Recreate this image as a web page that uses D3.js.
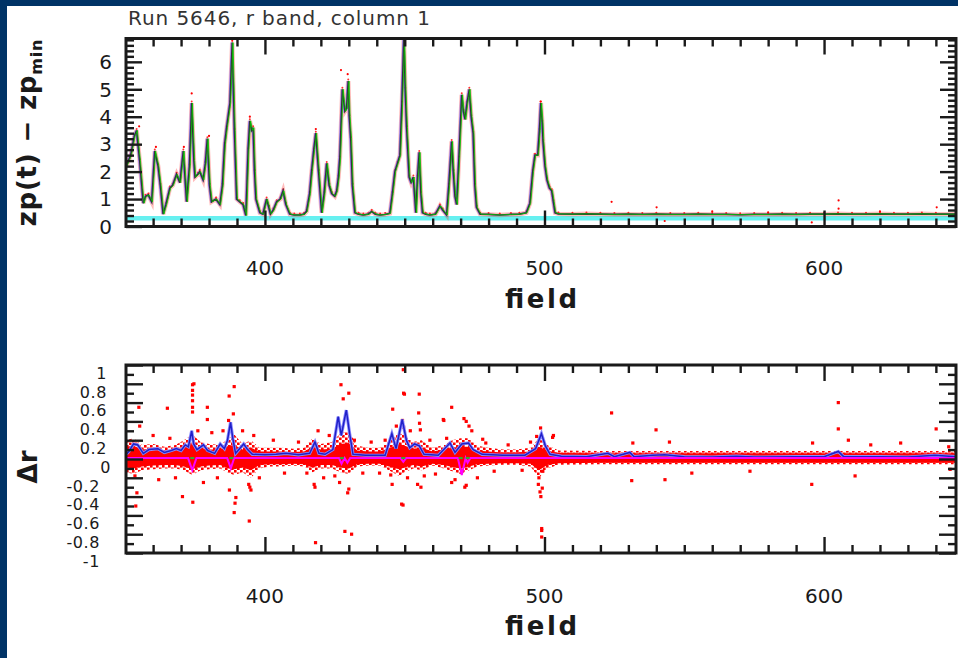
<!DOCTYPE html>
<html><head><meta charset="utf-8">
<script src="https://cdn.jsdelivr.net/npm/d3@7"></script>
<style>html,body{margin:0;padding:0;background:#003366;overflow:hidden}svg{display:block}</style>
</head><body>
<svg id="c" width="958" height="658"></svg>
<script>
// ---------------- DATA ----------------
const titleText = "Run 5646, r band, column 1";
const xTickLabels = [400, 500, 600];
const topYTickLabels = [0, 1, 2, 3, 4, 5, 6];
const botYTickLabels = [1, 0.8, 0.6, 0.4, 0.2, 0, -0.2, -0.4, -0.6, -0.8, -1];
const cyanLevel = [0.3];

// zp(t) - zp_min vs field
const topSeries = [[350.4,2.2],[352,2.6],[353.3,3.3],[354.1,3.5],[355.2,2.4],[356.5,0.85],[357.3,1.1],[358.3,1.15],[359.5,0.9],[360.6,2.75],[361.8,2.2],[362.6,1.5],[363.6,0.45],[364.6,0.8],[366,1.4],[367,1.5],[368.4,1.9],[369.6,1.6],[370.8,2.75],[372,0.9],[373,2.2],[373.8,4.5],[374.6,2.4],[375,1.8],[376,1.9],[376.7,2.0],[377.9,1.7],[378.7,2.3],[379.4,3.2],[380.2,1.5],[380.9,0.9],[382.5,1.0],[383.9,0.8],[384.8,1.5],[385.6,3.0],[386.3,3.6],[387.5,4.5],[388.3,6.7],[389.1,3.5],[389.9,1.0],[391,0.9],[392.2,0.8],[393.2,0.4],[394,2.8],[394.6,3.85],[395.3,3.5],[395.8,3.6],[396.3,2.0],[396.8,1.0],[398.2,0.5],[399.3,0.45],[400.6,1.0],[401.4,0.7],[402,0.45],[403,0.6],[404.2,0.9],[405.5,1.0],[406.5,1.3],[407.5,0.8],[408.9,0.45],[410.5,0.42],[412.5,0.42],[414,0.45],[414.9,0.55],[416,1.2],[416.7,2.0],[417.5,2.8],[418.2,3.4],[419.2,2.0],[420.3,0.5],[421.2,1.2],[422.1,2.3],[423,1.5],[423.9,1.2],[425,1.1],[425.7,1.3],[426.3,1.8],[426.8,2.5],[427.7,5.0],[428.6,4.2],[429.2,4.3],[429.8,5.3],[430.2,4.0],[430.7,3.2],[431.3,1.5],[432.2,0.5],[433.5,0.45],[435.2,0.42],[437,0.45],[438.2,0.55],[439.5,0.45],[441.2,0.42],[443,0.44],[444.7,0.48],[445.6,1.2],[446.5,2.0],[447.4,2.3],[448.3,2.6],[449,4.5],[449.7,6.9],[450.2,5.0],[450.7,3.6],[451.6,1.8],[452.3,1.6],[453.1,1.8],[454,0.5],[454.6,1.8],[455.2,2.7],[455.8,1.2],[456.4,0.5],[457.5,0.45],[459,0.42],[461,0.45],[462.6,0.75],[463.6,0.6],[465,0.42],[465.8,1.5],[466.8,3.1],[467.4,2.0],[468,1.1],[468.6,0.8],[469.4,2.5],[470.4,4.8],[471,4.2],[471.6,3.9],[472.3,4.5],[473.1,5.0],[473.8,4.0],[474.5,3.4],[475.1,1.5],[475.7,0.7],[477,0.45],[480,0.44],[484,0.42],[488,0.44],[491,0.45],[493.5,0.5],[494.8,0.85],[495.8,2.0],[496.6,2.6],[497.6,2.6],[498.2,3.5],[498.7,4.5],[499.2,3.8],[499.5,3.1],[500.2,2.2],[500.9,1.7],[501.8,1.4],[502.6,1.3],[503.2,0.9],[503.8,0.5],[505,0.46],[510,0.45],[515,0.46],[520,0.45],[525,0.44],[530,0.45],[535,0.44],[540,0.45],[545,0.44],[550,0.44],[555,0.45],[560,0.44],[565,0.44],[570,0.43],[575,0.44],[580,0.44],[585,0.45],[590,0.44],[595,0.45],[600,0.45],[605,0.46],[610,0.45],[615,0.45],[620,0.46],[625,0.45],[630,0.45],[635,0.46],[640,0.45],[647.2,0.45]];
const topOutliers = [[373.8,4.85],[427.2,5.7],[429.6,5.55],[388.3,6.8],[498.6,4.55],[355,3.65],[380,3.3],[394.6,4.0],[418.2,3.55],[361,2.9],[371,2.9],[524,0.9],[605.2,0.95],[605.2,0.65],[540.1,0.7],[640.3,0.7],[543,0.2],[595.6,0.15],[560,0.55],[580,0.52],[620,0.55]];

// Delta r panel
const blueSeries = [[350.4,0.05],[351.3,0.08],[353,0.16],[354.5,0.15],[356.5,0.06],[358.5,0.1],[361.7,0.11],[364,0.07],[366.5,0.09],[368.3,0.11],[370,0.09],[371.5,0.15],[372.6,0.13],[373.8,0.3],[374.5,0.16],[375.7,0.1],[378,0.15],[379.5,0.09],[382,0.06],[384,0.16],[385.5,0.11],[386.6,0.2],[387.7,0.39],[388.5,0.22],[389.5,0.06],[392.4,0.16],[393.8,0.1],[395.5,0.05],[400,0.045],[404,0.05],[407.5,0.06],[412,0.045],[416,0.06],[417.9,0.18],[419.3,0.06],[421.5,0.05],[424.3,0.1],[426.2,0.45],[427.3,0.25],[429.1,0.52],[430.3,0.27],[431.5,0.05],[436,0.04],[443,0.04],[445.4,0.27],[446.9,0.11],[449.1,0.42],[450.6,0.2],[451.8,0.12],[453.5,0.16],[455.2,0.14],[456.9,0.05],[462,0.04],[466.2,0.17],[468,0.07],[470.4,0.16],[472.8,0.17],[474.5,0.1],[477.7,0.05],[485,0.04],[493,0.04],[496.8,0.11],[498.9,0.27],[500.3,0.14],[502,0.05],[506,0.03],[515,0.025],[522.7,0.06],[525,0.025],[530.5,0.07],[532,0.025],[538.8,0.04],[543,0.045],[550,0.025],[560,0.02],[568.7,0.03],[575,0.02],[590,0.025],[600,0.025],[605.1,0.08],[607,0.025],[620,0.025],[630,0.02],[639.7,0.04],[647.2,0.025]];
const magentaSeries = [[350.4,0.01],[372.5,0.01],[374,-0.12],[375.5,0.01],[386.5,0.01],[387.8,-0.1],[389,0.01],[426.5,0.01],[427.4,-0.05],[428.5,0.01],[429.5,-0.04],[430.5,0.01],[448.5,0.01],[449.5,-0.03],[450.5,0.01],[469,0.01],[470.4,-0.17],[471.8,0.01],[472.5,-0.04],[473.5,0.01],[647.2,0.01]];
const greenMarks = [[374,0.01],[388,0.01],[427.5,0.01],[449.5,0.01],[470,0.01],[472.5,0.01]];
const bandFields = [350.4,353,356,360,364,368,371,374,377,380,384,387,389,392,395,398,402,406,410,414,417,420,424,427,430,433,437,441,445,448,450,453,456,460,464,467,470,473,476,480,485,490,495,498,501,505,520,550,580,610,647.2];
const haloUpper = [0.2,0.22,0.15,0.16,0.13,0.15,0.2,0.26,0.18,0.16,0.15,0.22,0.26,0.16,0.2,0.12,0.12,0.12,0.11,0.12,0.22,0.16,0.18,0.27,0.3,0.14,0.12,0.12,0.2,0.28,0.25,0.18,0.2,0.12,0.15,0.2,0.22,0.22,0.14,0.12,0.1,0.1,0.12,0.22,0.15,0.09,0.085,0.085,0.085,0.085,0.085];
const haloLower = [-0.14,-0.16,-0.12,-0.11,-0.1,-0.1,-0.12,-0.17,-0.12,-0.11,-0.1,-0.15,-0.17,-0.14,-0.2,-0.1,-0.08,-0.08,-0.07,-0.08,-0.14,-0.1,-0.1,-0.14,-0.16,-0.08,-0.07,-0.07,-0.13,-0.18,-0.14,-0.1,-0.12,-0.07,-0.1,-0.13,-0.16,-0.12,-0.08,-0.07,-0.06,-0.06,-0.08,-0.2,-0.1,-0.06,-0.055,-0.055,-0.055,-0.055,-0.055];
const coreUpper = [0.13,0.14,0.1,0.11,0.09,0.1,0.12,0.16,0.11,0.1,0.1,0.14,0.15,0.1,0.12,0.08,0.08,0.08,0.075,0.08,0.13,0.1,0.11,0.16,0.17,0.09,0.08,0.08,0.12,0.16,0.14,0.11,0.12,0.08,0.1,0.12,0.13,0.13,0.09,0.08,0.07,0.07,0.08,0.13,0.09,0.065,0.06,0.06,0.06,0.06,0.06];
const coreLower = [-0.09,-0.1,-0.08,-0.07,-0.065,-0.065,-0.08,-0.11,-0.08,-0.07,-0.065,-0.1,-0.11,-0.09,-0.12,-0.065,-0.055,-0.055,-0.05,-0.055,-0.09,-0.065,-0.065,-0.09,-0.1,-0.055,-0.05,-0.05,-0.085,-0.11,-0.09,-0.065,-0.08,-0.05,-0.065,-0.085,-0.1,-0.08,-0.055,-0.05,-0.045,-0.045,-0.05,-0.12,-0.065,-0.045,-0.04,-0.04,-0.04,-0.04,-0.04];
const redOutliers = [[374.1,0.79],[374.6,0.8],[374.1,0.73],[374.1,0.68],[374.1,0.62],[374.1,0.55],[374.1,0.5],[389,0.77],[387.2,0.67],[388.7,0.48],[387,0.41],[365.1,0.54],[379.4,0.55],[379.4,0.42],[370.5,-0.4],[374.2,-0.46],[389,-0.57],[389.3,-0.47],[389.6,-0.41],[394.4,-0.66],[394.2,-0.27],[394.6,-0.3],[395,-0.33],[387.3,-0.33],[418.1,-0.89],[428.6,-0.77],[431,-0.8],[427.2,0.79],[428,0.64],[430,0.7],[449.5,0.95],[449.6,0.7],[449.9,0.69],[455.2,0.69],[445.7,0.53],[449.4,-0.49],[466.8,0.55],[463.8,0.42],[429.6,-0.36],[430,-0.32],[417.6,-0.27],[417.9,-0.3],[445.5,-0.27],[445,-0.17],[454.6,-0.27],[455.8,-0.3],[466.8,-0.25],[470.4,-0.13],[354.9,0.55],[355.2,0.35],[353.8,-0.5],[354.2,-0.36],[353.5,-0.18],[449.2,0.41],[449.6,0.34],[455,0.49],[455.3,0.38],[455.6,0.31],[464,0.41],[471.2,0.43],[472,0.4],[473,0.35],[498.6,0.33],[477.9,0.21],[503.2,0.25],[448.9,-0.48],[499,-0.74],[498.7,-0.4],[498.4,-0.35],[499.2,-0.31],[497.8,-0.27],[498,-0.2],[499.4,-0.13],[426.7,-0.25],[471.5,-0.3],[472,-0.28],[524,0.49],[539.9,0.31],[544.7,0.18],[531.6,0.17],[605.1,0.6],[605.1,0.32],[608.7,0.2],[595.9,0.17],[640.1,0.32],[627.4,0.17],[616.7,0.15],[497.2,0.24],[502.9,0.23],[531.2,-0.23],[543.1,-0.22],[552.7,-0.15],[595.6,-0.27],[611.1,-0.18],[573.5,-0.13],[499,-0.76],[499,-0.83],[645.1,-0.11],[644.6,0.13],[360,0.25],[362,-0.22],[366,0.22],[368,-0.2],[376,0.3],[378,-0.25],[381,0.28],[383,-0.2],[385,0.3],[392,0.3],[396,0.25],[398,-0.2],[403,0.2],[407,-0.15],[412,0.18],[415,-0.15],[419,0.3],[421,-0.2],[423,0.25],[425,-0.18],[432,0.2],[435,-0.15],[438,0.18],[441,-0.15],[443,0.2],[447,0.35],[451,-0.2],[452,0.3],[457,-0.18],[459,0.2],[461,-0.16],[465,0.22],[468,-0.22],[474,0.3],[476,-0.2],[479,0.17],[482,-0.13],[487,0.15],[492,-0.12],[495,0.18]];

// ---------------- DRAW ----------------
const FONT = "'DejaVu Sans', 'Liberation Sans', sans-serif";
const INK = "#1a1a1a";
const svg = d3.select("#c");
svg.append("rect").attr("width", 958).attr("height", 658).attr("fill", "#003366");
svg.append("rect").attr("x", 7).attr("y", 6).attr("width", 951).attr("height", 652).attr("fill", "#ffffff");

const x = d3.scaleLinear().domain([350.3, 647.2]).range([126, 956]);
const yTop = d3.scaleLinear().domain([0, 6.85]).range([226.5, 38.5]);
const yBot = d3.scaleLinear().domain([-1, 1]).range([553, 365]);

const defs = svg.append("defs");
[["clipTop", yTop], ["clipBot", yBot]].forEach(([id, ys]) => {
  defs.append("clipPath").attr("id", id).append("rect")
    .attr("x", x.range()[0]).attr("y", ys.range()[1])
    .attr("width", x.range()[1] - x.range()[0]).attr("height", ys.range()[0] - ys.range()[1]);
});
const pat = defs.append("pattern").attr("id", "dots").attr("patternUnits", "userSpaceOnUse")
  .attr("width", 6).attr("height", 5);
pat.append("rect").attr("x", 0).attr("y", 0).attr("width", 2.6).attr("height", 2.6).attr("fill", "#ff0000");
pat.append("rect").attr("x", 3).attr("y", 2.5).attr("width", 2.6).attr("height", 2.6).attr("fill", "#ff0000");

// ---- top panel marks ----
const gT = svg.append("g").attr("clip-path", "url(#clipTop)");
gT.selectAll("line.cy").data(cyanLevel).join("line")
  .attr("x1", x.range()[0]).attr("x2", x.range()[1])
  .attr("y1", d => yTop(d)).attr("y2", d => yTop(d))
  .attr("stroke", "#66f0f0").attr("stroke-width", 4.5);
const lineT = d3.line().x(d => x(d[0])).y(d => yTop(d[1]));
gT.append("path").datum(topSeries).attr("d", lineT).attr("fill", "none")
  .attr("stroke", "#ff2020").attr("stroke-width", 4.5).attr("stroke-opacity", 0.3);
gT.selectAll("circle.rd").data(topSeries).join("circle")
  .attr("cx", d => x(d[0])).attr("cy", d => yTop(d[1]) - 1.5).attr("r", 1)
  .attr("fill", "#ff0000").attr("opacity", 0.8);
gT.append("path").datum(topSeries).attr("d", lineT).attr("fill", "none")
  .attr("transform", "translate(-0.8,0)")
  .attr("stroke", "#6060ff").attr("stroke-width", 1.4).attr("stroke-opacity", 0.75);
gT.append("path").datum(topSeries).attr("d", lineT).attr("fill", "none")
  .attr("stroke", "#333333").attr("stroke-width", 1.6);
gT.append("path").datum(topSeries).attr("d", lineT).attr("fill", "none")
  .attr("transform", "translate(0.8,0)")
  .attr("stroke", "#00d000").attr("stroke-width", 1).attr("stroke-opacity", 0.8);
gT.selectAll("circle.ro").data(topOutliers).join("circle")
  .attr("cx", d => x(d[0])).attr("cy", d => yTop(d[1])).attr("r", 1.1)
  .attr("fill", "#ff0000");

// ---- bottom panel marks ----
const gB = svg.append("g").attr("clip-path", "url(#clipBot)");
const bandIdx = d3.range(bandFields.length);
gB.append("path").datum(bandIdx).attr("fill", "url(#dots)")
  .attr("d", d3.area().x(i => x(bandFields[i])).y0(i => yBot(haloLower[i])).y1(i => yBot(haloUpper[i])));
gB.append("path").datum(bandIdx).attr("fill", "#ff0000")
  .attr("d", d3.area().x(i => x(bandFields[i])).y0(i => yBot(coreLower[i])).y1(i => yBot(coreUpper[i])));
gB.selectAll("rect.ol").data(redOutliers).join("rect")
  .attr("x", d => x(d[0]) - 1.6).attr("y", d => yBot(d[1]) - 1.6)
  .attr("width", 3.2).attr("height", 3.2).attr("fill", "#ff0000");
const lineB = d3.line().x(d => x(d[0])).y(d => yBot(d[1]));
gB.append("path").datum(blueSeries).attr("d", lineB).attr("fill", "none")
  .attr("stroke", "#8a8aff").attr("stroke-width", 3.2);
gB.append("path").datum(blueSeries).attr("d", lineB).attr("fill", "none")
  .attr("stroke", "#2020c8").attr("stroke-width", 1.5);
gB.append("path").datum(magentaSeries).attr("d", lineB).attr("fill", "none")
  .attr("stroke", "#ff00ff").attr("stroke-width", 2);
gB.selectAll("rect.gm").data(greenMarks).join("rect")
  .attr("x", d => x(d[0]) - 2).attr("y", d => yBot(d[1]) - 1)
  .attr("width", 4).attr("height", 2).attr("fill", "#30b030");

// ---- axes / frames ----
function styleAxis(g) {
  g.select(".domain").remove();
  g.selectAll("line").attr("stroke", INK).attr("stroke-width", 2.4);
}
function drawFrame(ys, yMajor, yMinor, yMajLen, yMinLen) {
  const xMinor = d3.range(360, 647, 10).filter(v => !xTickLabels.includes(v));
  const yB = ys.range()[0], yT = ys.range()[1];
  const xL = x.range()[0], xR = x.range()[1];
  const mk = (axisFn, scale, vals, len, tr) =>
    svg.append("g").attr("transform", tr)
      .call(axisFn(scale).tickValues(vals).tickSize(-len).tickSizeOuter(0).tickFormat(""))
      .call(styleAxis);
  mk(d3.axisBottom, x, xMinor, 8, `translate(0,${yB})`);
  mk(d3.axisBottom, x, xTickLabels, 16, `translate(0,${yB})`);
  mk(d3.axisTop, x, xMinor, 8, `translate(0,${yT})`);
  mk(d3.axisTop, x, xTickLabels, 16, `translate(0,${yT})`);
  mk(d3.axisLeft, ys, yMinor, yMinLen, `translate(${xL},0)`);
  mk(d3.axisLeft, ys, yMajor, yMajLen, `translate(${xL},0)`);
  mk(d3.axisRight, ys, yMinor, yMinLen, `translate(${xR},0)`);
  mk(d3.axisRight, ys, yMajor, yMajLen, `translate(${xR},0)`);
  svg.append("rect").attr("x", xL).attr("y", yT).attr("width", xR - xL).attr("height", yB - yT)
    .attr("fill", "none").attr("stroke", INK).attr("stroke-width", 3);
}
const topMinor = d3.range(1, 35).filter(i => i % 5 !== 0).map(i => i / 5);
drawFrame(yTop, topYTickLabels, topMinor, 16, 8);
const botMinor = d3.range(-9, 10, 2).map(i => i / 10);
drawFrame(yBot, botYTickLabels, botMinor, 17, 8);

// ---- text ----
const txt = (sel) => sel.attr("font-family", FONT).attr("fill", INK);
svg.append("text").call(txt).attr("x", 128).attr("y", 25).attr("font-size", 20)
  .attr("textLength", 302).attr("lengthAdjust", "spacing").attr("fill", "#333").text(titleText);

// x tick labels
[[yTop, 275], [yBot, 602.5]].forEach(([ys, by]) => {
  svg.append("g").selectAll("text").data(xTickLabels).join("text").call(txt)
    .attr("x", d => x(d)).attr("y", by).attr("text-anchor", "middle").attr("font-size", 20)
    .text(d => d);
});
// top y tick labels
svg.append("g").selectAll("text").data(topYTickLabels).join("text").call(txt)
  .attr("x", 112).attr("y", d => yTop(d) + 7.3).attr("text-anchor", "end").attr("font-size", 20)
  .text(d => d);
// bottom y tick labels (hang below tick, as in the reference)
svg.append("g").selectAll("text").data(botYTickLabels).join("text").call(txt)
  .attr("x", d => d < 0 ? 100 : (d === 0 ? 111 : 107))
  .attr("y", d => yBot(d) + 13.8).attr("text-anchor", "end").attr("font-size", 16)
  .attr("letter-spacing", 0.6)
  .text(d => d === 0 ? "0" : (d < 0 ? "-" : "") + String(Math.abs(d)));

// axis titles "field"
[308, 635].forEach(by => {
  svg.append("text").call(txt).attr("x", 541).attr("y", by).attr("text-anchor", "middle")
    .attr("font-size", 26).attr("font-weight", "bold")
    .attr("textLength", 72).attr("lengthAdjust", "spacing").text("field");
});
// y titles
const yt = svg.append("text").call(txt).attr("transform", "translate(36,133) rotate(-90)")
  .attr("text-anchor", "middle").attr("font-size", 26).attr("font-weight", "bold")
  .attr("textLength", 187).attr("lengthAdjust", "spacing");
yt.append("tspan").text("zp(t) \u2212 zp");
yt.append("tspan").attr("font-size", 16).attr("dy", 6).text("min");
svg.append("text").call(txt).attr("transform", "translate(37,467) rotate(-90)")
  .attr("text-anchor", "middle").attr("font-size", 26).attr("font-weight", "bold").text("\u0394r");
</script>
</body></html>
